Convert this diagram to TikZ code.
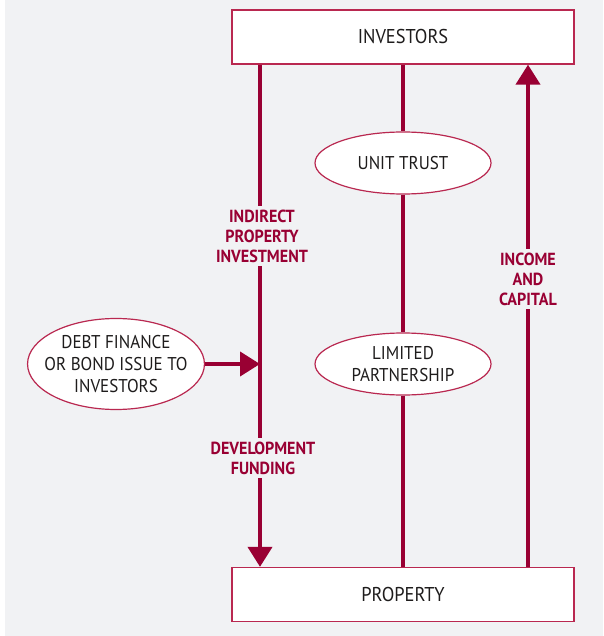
\documentclass[tikz,border=0pt]{standalone}
\usepackage{fontspec}
\setmainfont{PT Sans}[FakeStretch=0.92]
\usetikzlibrary{shapes.geometric,arrows.meta}
\definecolor{wine}{RGB}{153,0,51}
\definecolor{rim}{RGB}{185,40,80}
\definecolor{paper}{RGB}{241,242,244}
\definecolor{ink}{RGB}{30,28,28}
\begin{document}
\begin{tikzpicture}[x=1pt, y=-1pt,
  box/.style={draw=rim, line width=1.3pt, fill=white, minimum width=342pt,
    minimum height=54pt, text=ink, font=\fontsize{20}{22}\selectfont},
  oval/.style={draw=rim, shape=ellipse, line width=1.2pt, fill=white,
    minimum width=176pt, minimum height=62pt, inner sep=0pt, align=center,
    text=ink, font=\fontsize{18.5}{22}\selectfont},
  flow/.style={wine, line width=4pt},
  tip/.style={-{Triangle[width=24pt,length=20pt]}},
  lbl/.style={fill=paper, text=wine, align=center, inner xsep=4pt, inner ysep=4pt,
    font=\bfseries\fontsize{17.5}{20}\selectfont}]
\fill[paper] (5,0) rectangle (603,636);
\useasboundingbox (0,0) rectangle (603,636);

\node (investors) [box] at (403,37) {INVESTORS};
\node (property) [box] at (403,594.5) {PROPERTY};
\node (utrust) [oval] at (403,163) {UNIT TRUST};
\node (lpartner) [oval] at (403,364) {LIMITED\\PARTNERSHIP};
\node (debt) [oval, inner xsep=-9pt, minimum height=91pt] at (116,364) {DEBT FINANCE\\OR BOND ISSUE TO\\INVESTORS};

\coordinate (feed) at ([xshift=-143]investors.south);
\draw[flow, tip] (feed) -- (feed |- property.north);
\draw[flow] (investors.south) -- (utrust.north);
\draw[flow] (utrust.south) -- (lpartner.north);
\draw[flow] (lpartner.south) -- (property.north);
\draw[flow, tip] ([xshift=125]property.north) -- ([xshift=125]investors.south);
\draw[flow, tip] (debt.east) -- (debt.east -| feed);

\node (indirect) [lbl] at (262,236) {INDIRECT\\PROPERTY\\INVESTMENT};
\node (devfund) [lbl] at (263,458) {DEVELOPMENT\\FUNDING};
\node (income) [lbl] at (528,279) {INCOME\\AND\\CAPITAL};
\end{tikzpicture}
\end{document}
